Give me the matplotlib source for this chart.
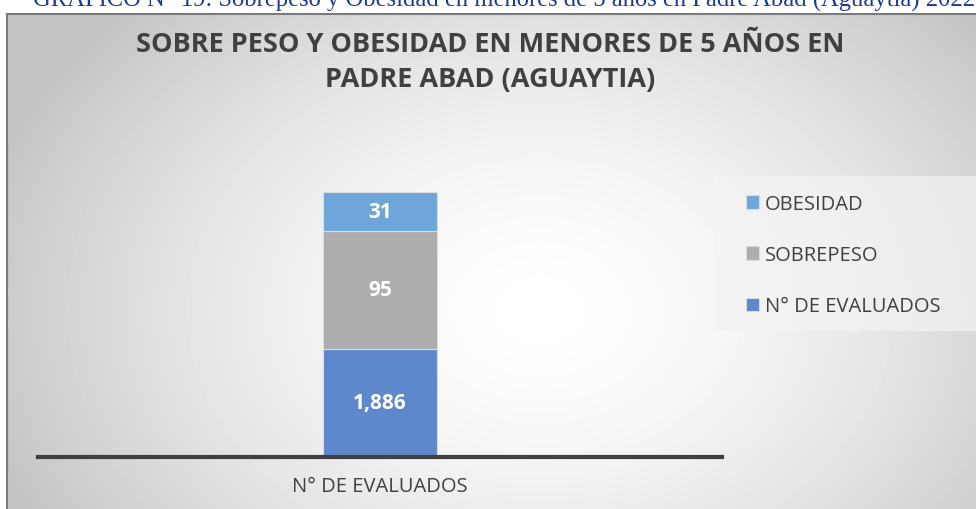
import numpy as np
import matplotlib as mpl
mpl.use('Agg')
import matplotlib.pyplot as plt
import matplotlib.patches as mpatches

plt.rcParams['font.family'] = ['Open Sans', 'DejaVu Sans']

category = "N° DE EVALUADOS"
series = ["N° DE EVALUADOS", "SOBREPESO", "OBESIDAD"]
values = [1886, 95, 31]
# segment heights as drawn in the picture (the original bar is not to scale)
drawn_heights = [108, 118, 39]
colors = ["#5f87cc", "#adadad", "#6fa6da"]

title = "SOBRE PESO Y OBESIDAD EN MENORES DE 5 AÑOS EN\nPADRE ABAD (AGUAYTIA)"
caption = "GRÁFICO N° 19: Sobrepeso y Obesidad en menores de 5 años en Padre Abad (Aguaytía) 2022"

W, H = 976, 510
fig = plt.figure(figsize=(W / 100, H / 100), dpi=100)
fig.patch.set_facecolor("white")

# radial gradient background inside the chart frame
x0, y0 = 7, 15
bg = fig.add_axes([x0 / W, 0, 1 - x0 / W, 1 - y0 / H])
yy, xx = np.mgrid[y0:H, x0:W]
r = np.sqrt(((xx - 540) / 560.0) ** 2 + ((yy - 310) / 420.0) ** 2)
shade = np.clip(1.0 - 0.22 * r ** 1.6, 0.77, 1.0)
bg.imshow(shade, cmap="gray", vmin=0, vmax=1, aspect="auto", interpolation="bilinear")
bg.set_axis_off()
fig.add_artist(mpatches.Rectangle((x0 / W, -0.01), 1.0, 1 - y0 / H + 0.01, transform=fig.transFigure,
                                  fill=False, edgecolor="#7a7a7a", linewidth=1.5))

# caption, cut at the top edge like the source
fig.text(33 / W, 1 - 5.5 / H, caption, family="Liberation Serif", fontsize=17.7, color="#1f3a93",
         ha="left", va="baseline")

fig.text(490 / W, 1 - 45 / H, title.split("\n")[0], fontsize=19.5, fontweight="bold",
         color="#404040", ha="center", va="center")
fig.text(490 / W, 1 - 80 / H, title.split("\n")[1], fontsize=19.5, fontweight="bold",
         color="#404040", ha="center", va="center")

# plot area
left, right, bottom, top = 38, 722, 458, 150
ax = fig.add_axes([left / W, 1 - bottom / H, (right - left) / W, (bottom - top) / H])
ax.set_facecolor("none")
ax.set_xlim(-0.5, 0.5)
ax.set_ylim(0, bottom - top)

base = 0
handles = []
for name, v, h, c in zip(series, values, drawn_heights, colors):
    b = ax.bar(0, h, bottom=base, width=114 / (right - left), color=c,
               edgecolor="#dcdcdc", linewidth=0.8, label=name)
    handles.append(b)
    ax.text(0, base + h / 2, f"{v:,}", ha="center", va="center", color="white",
            fontsize=15, fontweight="bold")
    base += h

for s in ["top", "right", "left"]:
    ax.spines[s].set_visible(False)
ax.spines["bottom"].set_color("#3f3f3f")
ax.spines["bottom"].set_linewidth(3)
ax.set_yticks([])
ax.set_xticks([0])
ax.set_xticklabels([category], fontsize=14.5, color="#404040")
ax.tick_params(axis="x", length=0, pad=14)

# lighter box behind the legend
fig.add_artist(mpatches.Rectangle((714 / W, 1 - 332 / H), 1.0, 155 / H, transform=fig.transFigure,
                                  facecolor="#f3f3f3", alpha=0.7, edgecolor="none"))
leg = fig.legend(handles[::-1], series[::-1], loc="upper left",
                 bbox_to_anchor=(746 / W, 1 - 195 / H), bbox_transform=fig.transFigure,
                 frameon=False, fontsize=14.5, labelspacing=1.55, handlelength=0.65,
                 handleheight=0.65, handletextpad=0.3, borderpad=0, borderaxespad=0)
for t in leg.get_texts():
    t.set_color("#404040")

fig.savefig("out.png", dpi=100)
